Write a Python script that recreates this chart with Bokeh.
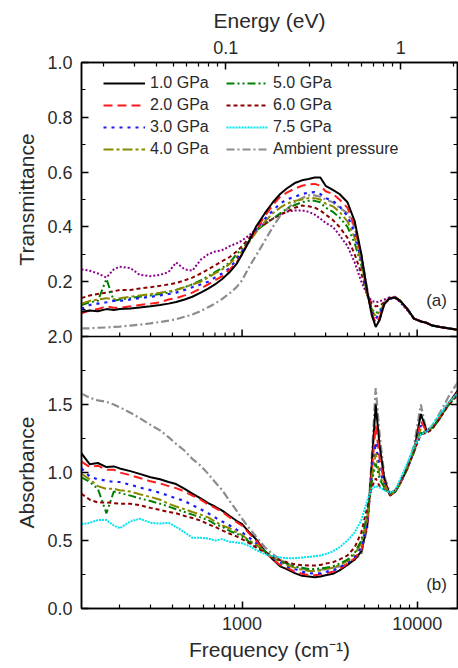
import math
from bokeh.plotting import figure
from bokeh.layouts import row
from bokeh.models import (Range1d, LogAxis, LinearAxis, LogScale, FixedTicker, Legend,
                          LegendItem, Label, Span, CustomJSTickFormatter)
from bokeh.embed import file_html
from bokeh.resources import INLINE

# ---------------- data ----------------
freq = [121, 135, 150, 168, 185, 200, 230, 260, 300, 340, 380, 420, 470, 520, 580, 640, 700, 770,
        850, 930, 1000, 1100, 1200, 1350, 1500, 1650, 1800, 2000, 2200, 2400, 2600, 2800, 3000,
        3300, 3600, 4000, 4400, 4800, 5200, 5500, 5800, 6100, 6500, 7000, 7500, 8000, 8800, 9600,
        10500, 11300, 12200, 13500, 15000, 17000]

labels = ["1.0 GPa", "2.0 GPa", "3.0 GPa", "4.0 GPa", "5.0 GPa", "6.0 GPa", "7.5 GPa", "Ambient pressure"]

# Transmittance (panel a)
T_10 = [0.090, 0.095, 0.092, 0.100, 0.097, 0.100, 0.102, 0.106, 0.110, 0.115,
        0.120, 0.126, 0.135, 0.145, 0.160, 0.175, 0.190, 0.210, 0.235, 0.265,
        0.300, 0.350, 0.400, 0.450, 0.490, 0.520, 0.540, 0.560, 0.570, 0.575,
        0.580, 0.580, 0.550, 0.535, 0.520, 0.490, 0.420, 0.300, 0.160, 0.080,
        0.035, 0.060, 0.120, 0.140, 0.142, 0.130, 0.100, 0.065, 0.055, 0.050,
        0.040, 0.035, 0.030, 0.025]
T_20 = [0.085, 0.095, 0.100, 0.110, 0.105, 0.105, 0.110, 0.115, 0.120, 0.125,
        0.135, 0.140, 0.150, 0.160, 0.175, 0.190, 0.205, 0.220, 0.245, 0.270,
        0.300, 0.350, 0.390, 0.440, 0.480, 0.510, 0.525, 0.540, 0.550, 0.555,
        0.557, 0.550, 0.530, 0.520, 0.500, 0.470, 0.400, 0.290, 0.160, 0.085,
        0.050, 0.070, 0.120, 0.140, 0.142, 0.130, 0.100, 0.065, 0.055, 0.050,
        0.040, 0.035, 0.030, 0.025]
T_30 = [0.100, 0.115, 0.120, 0.125, 0.130, 0.130, 0.135, 0.140, 0.145, 0.150,
        0.155, 0.160, 0.170, 0.180, 0.190, 0.200, 0.215, 0.230, 0.250, 0.280,
        0.310, 0.350, 0.390, 0.430, 0.460, 0.485, 0.500, 0.510, 0.520, 0.525,
        0.527, 0.520, 0.505, 0.495, 0.475, 0.440, 0.380, 0.280, 0.160, 0.090,
        0.065, 0.085, 0.120, 0.138, 0.142, 0.130, 0.100, 0.065, 0.055, 0.050,
        0.040, 0.035, 0.030, 0.025]
T_40 = [0.120, 0.130, 0.135, 0.140, 0.135, 0.140, 0.145, 0.150, 0.155, 0.160,
        0.165, 0.170, 0.180, 0.190, 0.200, 0.215, 0.230, 0.245, 0.265, 0.290,
        0.310, 0.345, 0.380, 0.420, 0.450, 0.470, 0.485, 0.495, 0.500, 0.505,
        0.505, 0.500, 0.485, 0.475, 0.455, 0.420, 0.360, 0.270, 0.155, 0.095,
        0.075, 0.090, 0.120, 0.138, 0.142, 0.130, 0.100, 0.065, 0.055, 0.050,
        0.040, 0.035, 0.030, 0.025]
T_50 = [0.115, 0.125, 0.130, 0.210, 0.130, 0.135, 0.140, 0.145, 0.150, 0.155,
        0.160, 0.170, 0.180, 0.190, 0.205, 0.220, 0.235, 0.250, 0.270, 0.300,
        0.320, 0.350, 0.385, 0.410, 0.430, 0.450, 0.465, 0.480, 0.490, 0.495,
        0.495, 0.490, 0.470, 0.455, 0.435, 0.400, 0.340, 0.260, 0.150, 0.100,
        0.085, 0.095, 0.122, 0.138, 0.142, 0.130, 0.100, 0.065, 0.055, 0.050,
        0.040, 0.035, 0.030, 0.025]
T_60 = [0.140, 0.150, 0.155, 0.160, 0.165, 0.170, 0.170, 0.175, 0.180, 0.185,
        0.190, 0.195, 0.205, 0.215, 0.230, 0.245, 0.260, 0.275, 0.290, 0.310,
        0.330, 0.360, 0.390, 0.410, 0.430, 0.445, 0.455, 0.470, 0.478, 0.475,
        0.470, 0.460, 0.445, 0.425, 0.400, 0.360, 0.300, 0.230, 0.150, 0.120,
        0.110, 0.112, 0.125, 0.140, 0.142, 0.130, 0.100, 0.065, 0.055, 0.050,
        0.040, 0.035, 0.030, 0.025]
T_75 = [0.245, 0.240, 0.230, 0.215, 0.245, 0.255, 0.250, 0.225, 0.220, 0.225,
        0.235, 0.270, 0.245, 0.240, 0.280, 0.300, 0.310, 0.315, 0.330, 0.340,
        0.350, 0.370, 0.390, 0.415, 0.430, 0.445, 0.455, 0.460, 0.460, 0.455,
        0.445, 0.430, 0.415, 0.400, 0.370, 0.330, 0.270, 0.200, 0.150, 0.130,
        0.125, 0.128, 0.135, 0.143, 0.140, 0.125, 0.095, 0.065, 0.055, 0.050,
        0.040, 0.035, 0.030, 0.025]
T_amb = [0.030, 0.030, 0.032, 0.033, 0.035, 0.036, 0.040, 0.043, 0.048, 0.053,
         0.058, 0.063, 0.072, 0.080, 0.093, 0.107, 0.120, 0.137, 0.158, 0.180,
         0.205, 0.255, 0.295, 0.350, 0.400, 0.440, 0.465, 0.490, 0.505, 0.515,
         0.515, 0.510, 0.500, 0.490, 0.470, 0.450, 0.400, 0.300, 0.170, 0.080,
         0.040, 0.060, 0.120, 0.145, 0.145, 0.130, 0.100, 0.065, 0.055, 0.050,
         0.040, 0.035, 0.030, 0.025]

# Absorbance (panel b)
A_10 = [1.14, 1.06, 1.07, 1.04, 1.045, 1.03, 1.01, 0.99, 0.965, 0.95,
        0.93, 0.915, 0.88, 0.845, 0.81, 0.775, 0.75, 0.72, 0.68, 0.645,
        0.62, 0.56, 0.51, 0.42, 0.36, 0.31, 0.29, 0.26, 0.24, 0.235,
        0.23, 0.235, 0.245, 0.255, 0.28, 0.32, 0.36, 0.42, 0.62, 1.05,
        1.50, 1.20, 0.95, 0.83, 0.86, 0.92, 1.03, 1.16, 1.43, 1.31,
        1.33, 1.40, 1.50, 1.60]
A_20 = [1.08, 1.04, 1.05, 1.02, 1.02, 1.00, 0.98, 0.96, 0.935, 0.92,
        0.90, 0.885, 0.86, 0.83, 0.80, 0.765, 0.74, 0.71, 0.67, 0.635,
        0.61, 0.55, 0.50, 0.42, 0.36, 0.32, 0.30, 0.27, 0.255, 0.245,
        0.245, 0.25, 0.26, 0.27, 0.29, 0.33, 0.37, 0.43, 0.63, 1.00,
        1.345, 1.10, 0.92, 0.835, 0.86, 0.92, 1.03, 1.16, 1.38, 1.30,
        1.33, 1.41, 1.50, 1.59]
A_30 = [1.03, 0.97, 0.95, 0.94, 0.93, 0.93, 0.91, 0.89, 0.87, 0.85,
        0.83, 0.81, 0.79, 0.76, 0.73, 0.70, 0.67, 0.64, 0.61, 0.58,
        0.56, 0.52, 0.48, 0.42, 0.37, 0.34, 0.31, 0.29, 0.27, 0.26,
        0.257, 0.26, 0.27, 0.28, 0.30, 0.34, 0.38, 0.45, 0.65, 0.97,
        1.22, 1.02, 0.91, 0.84, 0.86, 0.92, 1.03, 1.16, 1.345, 1.30,
        1.33, 1.41, 1.50, 1.59]
A_40 = [0.99, 0.95, 0.90, 0.88, 0.88, 0.87, 0.86, 0.84, 0.82, 0.80,
        0.77, 0.75, 0.73, 0.71, 0.69, 0.67, 0.64, 0.61, 0.59, 0.56,
        0.54, 0.50, 0.47, 0.42, 0.375, 0.345, 0.32, 0.30, 0.285, 0.275,
        0.275, 0.28, 0.29, 0.30, 0.32, 0.35, 0.40, 0.48, 0.68, 0.95,
        1.14, 0.98, 0.90, 0.84, 0.86, 0.92, 1.03, 1.16, 1.32, 1.29,
        1.33, 1.41, 1.50, 1.58]
A_50 = [0.965, 0.93, 0.88, 0.70, 0.86, 0.85, 0.83, 0.81, 0.79, 0.77,
        0.75, 0.73, 0.71, 0.69, 0.67, 0.65, 0.62, 0.60, 0.57, 0.55,
        0.53, 0.49, 0.46, 0.42, 0.38, 0.35, 0.33, 0.31, 0.30, 0.29,
        0.29, 0.295, 0.30, 0.31, 0.33, 0.36, 0.41, 0.50, 0.70, 0.93,
        1.066, 0.95, 0.89, 0.84, 0.86, 0.92, 1.03, 1.15, 1.29, 1.29,
        1.32, 1.40, 1.49, 1.57]
A_60 = [0.843, 0.80, 0.78, 0.78, 0.775, 0.77, 0.77, 0.76, 0.74, 0.725,
        0.71, 0.70, 0.68, 0.665, 0.647, 0.62, 0.60, 0.575, 0.55, 0.53,
        0.51, 0.48, 0.45, 0.41, 0.38, 0.355, 0.34, 0.325, 0.318, 0.316,
        0.316, 0.32, 0.33, 0.34, 0.36, 0.39, 0.45, 0.56, 0.75, 0.89,
        0.956, 0.90, 0.875, 0.845, 0.87, 0.93, 1.04, 1.16, 1.28, 1.29,
        1.32, 1.40, 1.49, 1.57]
A_75 = [0.62, 0.63, 0.65, 0.65, 0.61, 0.59, 0.64, 0.66, 0.63, 0.625,
        0.63, 0.60, 0.56, 0.52, 0.52, 0.515, 0.50, 0.51, 0.49, 0.485,
        0.48, 0.46, 0.43, 0.40, 0.385, 0.375, 0.37, 0.37, 0.375, 0.38,
        0.385, 0.39, 0.40, 0.42, 0.45, 0.50, 0.56, 0.65, 0.80, 0.88,
        0.90, 0.89, 0.87, 0.85, 0.87, 0.95, 1.07, 1.19, 1.28, 1.30,
        1.35, 1.43, 1.51, 1.58]
A_amb = [1.58, 1.55, 1.53, 1.52, 1.50, 1.48, 1.44, 1.40, 1.35, 1.31,
         1.26, 1.21, 1.16, 1.10, 1.05, 0.99, 0.93, 0.87, 0.79, 0.72,
         0.66, 0.59, 0.53, 0.45, 0.40, 0.36, 0.33, 0.31, 0.29, 0.285,
         0.28, 0.285, 0.29, 0.30, 0.31, 0.33, 0.36, 0.40, 0.60, 1.10,
         1.62, 1.28, 0.97, 0.85, 0.87, 0.93, 1.05, 1.20, 1.50, 1.30,
         1.34, 1.44, 1.55, 1.66]

freq_ticks = [1000, 10000]
freq_minor = [200, 300, 400, 500, 600, 700, 800, 900,
              2000, 3000, 4000, 5000, 6000, 7000, 8000, 9000]
ev_ticks = [0.1, 1]
ev_minor = [0.02, 0.03, 0.04, 0.05, 0.06, 0.07, 0.08, 0.09,
            0.2, 0.3, 0.4, 0.5, 0.6, 0.7, 0.8, 0.9, 2]
CM_PER_EV = 8065.54
T_ticks = [0.2, 0.4, 0.6, 0.8, 1.0]
T_minor = [0.1, 0.3, 0.5, 0.7, 0.9]
A_ticks = [0.0, 0.5, 1.0, 1.5, 2.0]
A_minor = [0.25, 0.75, 1.25, 1.75]

# ---------------- layout constants ----------------
FONT = "Liberation Sans"
TXT = "#2a2a2a"
W, H = 458, 668
TITLE_W = 40                                # strip on the left holding the y titles
LEFT, RIGHT, TOP, BOTTOM = 81 - TITLE_W, 1, 62, 60
PANEL_A_PX, PANEL_B_PX = 274, 272          # heights of the two stacked panels
A_MAX = 2.0                                 # absorbance panel spans 0..2
K = A_MAX * PANEL_A_PX / PANEL_B_PX         # absorbance units per unit of transmittance
X0, X1 = 121, 17000

styles = [
    dict(color="black", line_dash="solid", line_width=2.0),
    dict(color="#ff1a1a", line_dash="9 5", line_width=2.0),
    dict(color="#1a1aff", line_dash="3 5", line_width=2.2),
    dict(color="#8a8a00", line_dash="10 3 3 3", line_width=2.0),
    dict(color="#008000", line_dash="8 3 2 3 2 3", line_width=2.0),
    dict(color="#8b0000", line_dash="4 3", line_width=2.0),
    dict(color="#00e5ee", line_dash="2 1", line_width=2.0),
    dict(color="#8c8c8c", line_dash="8 3 2 3", line_width=2.2),
]
purple = dict(color="#8b008b", line_dash="2 2", line_width=2.0)


def style_axis(ax, show_labels=True):
    ax.axis_line_color = "black"
    ax.axis_line_width = 1.5
    ax.major_tick_line_color = "black"
    ax.minor_tick_line_color = "black"
    ax.major_tick_line_width = 1.5
    ax.minor_tick_line_width = 1.2
    ax.major_tick_in = 7
    ax.major_tick_out = 0
    ax.minor_tick_in = 4
    ax.minor_tick_out = 0
    ax.major_label_text_font = FONT
    ax.major_label_text_font_size = "18px"
    ax.major_label_text_color = TXT
    ax.axis_label_text_font = FONT
    ax.axis_label_text_font_size = "21px"
    ax.axis_label_text_font_style = "normal"
    ax.axis_label_text_color = TXT
    if not show_labels:
        ax.major_label_text_font_size = "1px"
        ax.major_label_text_alpha = 0
        ax.major_label_standoff = 0


y_range_A = Range1d(0, A_MAX + K)
y_range_T = Range1d(-A_MAX / K, 1.0)

p = figure(width=W - TITLE_W, height=H, x_axis_type="log", x_range=Range1d(X0, X1),
           y_range=y_range_A, output_backend="svg", toolbar_location=None,
           min_border_left=LEFT, min_border_right=RIGHT, min_border_top=TOP,
           min_border_bottom=BOTTOM)
p.grid.visible = False
p.outline_line_color = "black"
p.outline_line_width = 1.5
p.extra_y_ranges = {"T": y_range_T}

# combined left/right ticker: absorbance ticks below, transmittance ticks above
y_major = A_ticks + [A_MAX + t * K for t in T_ticks]
y_minor = A_minor + [A_MAX + t * K for t in T_minor]
y_fmt = CustomJSTickFormatter(code=f"""
    if (tick <= {A_MAX} + 1e-6) {{ return tick.toFixed(1); }}
    return ((tick - {A_MAX}) / {K}).toFixed(1);
""")
p.yaxis.ticker = FixedTicker(ticks=y_major, minor_ticks=y_minor)
p.yaxis.formatter = y_fmt
style_axis(p.yaxis[0])
p.yaxis.major_label_standoff = 9

r_ax = LinearAxis(ticker=FixedTicker(ticks=y_major, minor_ticks=y_minor))
style_axis(r_ax, show_labels=False)
p.add_layout(r_ax, "right")

p.xaxis.ticker = FixedTicker(ticks=freq_ticks, minor_ticks=freq_minor)
p.xaxis.formatter = CustomJSTickFormatter(code="return String(tick);")
p.xaxis.axis_label = "Frequency (cm\u207b\u00b9)"
style_axis(p.xaxis[0])
p.xaxis.major_label_standoff = 8
p.xaxis.axis_label_standoff = 5

p.extra_x_ranges = {"ev": Range1d(X0 / CM_PER_EV, X1 / CM_PER_EV)}
p.extra_x_scales = {"ev": LogScale()}
ev_ax = LogAxis(x_range_name="ev", axis_label="Energy (eV)",
                ticker=FixedTicker(ticks=ev_ticks, minor_ticks=ev_minor),
                formatter=CustomJSTickFormatter(code="return String(tick);"))
style_axis(ev_ax)
ev_ax.major_label_standoff = 9
ev_ax.axis_label_standoff = 6
p.add_layout(ev_ax, "above")

# panel divider with upward ticks into panel (a)
p.add_layout(Span(location=A_MAX, dimension="width", line_color="black", line_width=1.5))
p.segment(x0=freq_ticks, y0=[0.0] * len(freq_ticks), x1=freq_ticks,
          y1=[7.0 / PANEL_A_PX] * len(freq_ticks), y_range_name="T",
          line_color="black", line_width=1.5)
p.segment(x0=freq_minor, y0=[0.0] * len(freq_minor), x1=freq_minor,
          y1=[4.0 / PANEL_A_PX] * len(freq_minor), y_range_name="T",
          line_color="black", line_width=1.2)

# ---- panel (a) curves
top_series = [T_10, T_20, T_30, T_40, T_50, T_60, T_75, T_amb]
rend = {}
for i in [7, 6, 5, 4, 3, 2, 1, 0]:
    st = purple if i == 6 else styles[i]
    rend[i] = p.line(freq, top_series[i], y_range_name="T", **st)

# ---- panel (b) curves
bottom_series = [A_10, A_20, A_30, A_40, A_50, A_60, A_75, A_amb]
rend_b = {}
for i in [7, 0, 1, 2, 3, 4, 5, 6]:
    rend_b[i] = p.line(freq, bottom_series[i], **styles[i])

leg_rend = [rend[0], rend[1], rend[2], rend[3], rend[4], rend[5], rend_b[6], rend[7]]
items = [LegendItem(label=labels[i], renderers=[leg_rend[i]]) for i in range(8)]
legend = Legend(items=items, location=(22, 450), nrows=4,
                margin=0, padding=0, spacing=4,
                glyph_width=42, glyph_height=18, label_height=18,
                label_standoff=5, label_width=72,
                label_text_font=FONT, label_text_font_size="16px",
                label_text_color=TXT, border_line_alpha=0,
                background_fill_alpha=0)
p.add_layout(legend)

p.add_layout(Label(x=12900, y=0.13, y_range_name="T", text="(a)", text_font=FONT,
                   text_font_size="17px", text_color=TXT, text_align="center",
                   text_baseline="middle"))
p.add_layout(Label(x=12900, y=0.18, text="(b)", text_font=FONT, text_font_size="17px",
                   text_color=TXT, text_align="center", text_baseline="middle"))

# ---- narrow strip on the left carrying the two y-axis titles
t = figure(width=TITLE_W, height=H, x_range=Range1d(0, TITLE_W), y_range=y_range_A,
           output_backend="svg", toolbar_location=None, x_axis_location=None,
           y_axis_location=None, min_border_left=0, min_border_right=0,
           min_border_top=TOP, min_border_bottom=BOTTOM)
t.grid.visible = False
t.outline_line_color = None
t.extra_y_ranges = {"T": y_range_T}
t.add_layout(Label(x=26, y=0.5, y_range_name="T", text="Transmittance", angle=math.pi / 2,
                   text_font=FONT, text_font_size="21px", text_color=TXT,
                   text_align="center", text_baseline="middle"))
t.add_layout(Label(x=26, y=A_MAX / 2, text="Absorbance", angle=math.pi / 2,
                   text_font=FONT, text_font_size="21px", text_color=TXT,
                   text_align="center", text_baseline="middle"))

layout = row(t, p, spacing=0)
open("out.html", "w").write(file_html(layout, INLINE))
